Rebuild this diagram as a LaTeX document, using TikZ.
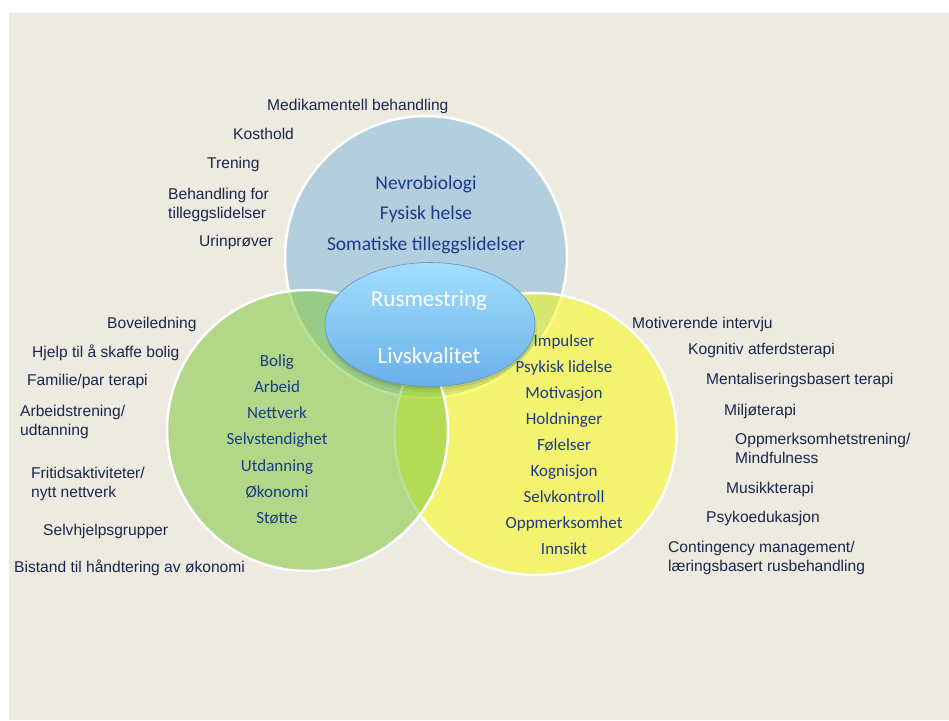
\documentclass[tikz,border=0pt]{standalone}
\usepackage{fontspec}
\setmainfont{Liberation Sans}
\newfontfamily\calfont{Carlito}
\usetikzlibrary{shapes.geometric}
\definecolor{bgc}{RGB}{237,234,223}
\definecolor{bluec}{RGB}{133,183,221}
\definecolor{yellowc}{RGB}{248,252,21}
\definecolor{greenc}{RGB}{130,201,63}
\definecolor{outertxt}{RGB}{27,38,80}
\definecolor{innertxt}{RGB}{28,58,140}
\definecolor{coretop}{RGB}{162,222,253}
\definecolor{corebot}{RGB}{106,176,233}
\definecolor{coreedge}{RGB}{100,150,195}
\tikzset{
  ring/.style={fill opacity=0.55, draw=white, draw opacity=1, line width=2.5pt},
  outer/.style={inner sep=0pt, anchor=base west, text=outertxt, font=\fontsize{15.6}{19}\selectfont},
  innerlist/.style={inner sep=0pt, anchor=base, text=innertxt},
  coretext/.style={inner sep=0pt, anchor=base, text=white, font=\calfont\fontsize{23}{57}\selectfont}
}
\begin{document}
\begin{tikzpicture}[x=1pt,y=-1pt]
\useasboundingbox (0,0) rectangle (949,720);
\fill[bgc] (9,13) rectangle (949,720);
% circles: blue, yellow, green
\path[ring, fill=bluec] (426,257) circle[radius=141];
\path[ring, fill=yellowc] (535.5,434) circle[radius=141];
\path[ring, fill=greenc] (307.5,430.5) circle[radius=140.5];
% soft shadow of core ellipse
\fill[black, opacity=0.05] (431,329.5) ellipse[x radius=106, y radius=63];
\fill[black, opacity=0.09] (430.5,327.5) ellipse[x radius=105, y radius=62];
% core ellipse
\node[ellipse, minimum width=210pt, minimum height=124pt, inner sep=0pt,
      top color=coretop, bottom color=corebot, draw=coreedge, line width=0.6pt] (core) at (430,324.5) {};
\node[coretext] (core1) at (429,306) {Rusmestring};
\node[coretext] (core2) at (429,363) {Livskvalitet};
% inner lists
\node[innerlist, font=\calfont\fontsize{19.5}{30.5}\selectfont] (bluelist) at (426,189)
  {\begin{tabular}[t]{@{}c@{}}Nevrobiologi\\Fysisk helse\\Somatiske tilleggslidelser\end{tabular}};
\node[innerlist, font=\calfont\fontsize{17}{26.3}\selectfont] (greenlist) at (277,366)
  {\begin{tabular}[t]{@{}c@{}}Bolig\\Arbeid\\Nettverk\\Selvstendighet\\Utdanning\\Økonomi\\Støtte\end{tabular}};
\node[innerlist, font=\calfont\fontsize{17}{26.1}\selectfont] (yellowlist) at (564,346)
  {\begin{tabular}[t]{@{}c@{}}Impulser\\Psykisk lidelse\\Motivasjon\\Holdninger\\Følelser\\Kognisjon\\Selvkontroll\\Oppmerksomhet\\Innsikt\end{tabular}};
% outer texts: top
\node[outer] (t1) at (267,110.5) {Medikamentell behandling};
\node[outer] (t2) at (233,139.5) {Kosthold};
\node[outer] (t3) at (207,168.5) {Trening};
\node[outer] (t4) at (168,199.5) {\begin{tabular}[t]{@{}l@{}}Behandling for\\tilleggslidelser\end{tabular}};
\node[outer] (t5) at (199,246.5) {Urinprøver};
% left
\node[outer] (l1) at (107,328.5) {Boveiledning};
\node[outer] (l2) at (32,357.5) {Hjelp til å skaffe bolig};
\node[outer] (l3) at (27,385.5) {Familie/par terapi};
\node[outer] (l4) at (20,416.5) {\begin{tabular}[t]{@{}l@{}}Arbeidstrening/\\udtanning\end{tabular}};
\node[outer] (l5) at (31,478.5) {\begin{tabular}[t]{@{}l@{}}Fritidsaktiviteter/\\nytt nettverk\end{tabular}};
\node[outer] (l6) at (43,535.5) {Selvhjelpsgrupper};
\node[outer] (l7) at (14,572.5) {Bistand til håndtering av økonomi};
% right
\node[outer] (r1) at (632,328.5) {Motiverende intervju};
\node[outer] (r2) at (688,354.5) {Kognitiv atferdsterapi};
\node[outer] (r3) at (706,384.5) {Mentaliseringsbasert terapi};
\node[outer] (r4) at (724,415.5) {Miljøterapi};
\node[outer] (r5) at (735,444.5) {\begin{tabular}[t]{@{}l@{}}Oppmerksomhetstrening/\\Mindfulness\end{tabular}};
\node[outer] (r6) at (726,493.5) {Musikkterapi};
\node[outer] (r7) at (706,522.5) {Psykoedukasjon};
\node[outer] (r8) at (668,552.5) {\begin{tabular}[t]{@{}l@{}}Contingency management/\\læringsbasert rusbehandling\end{tabular}};
\end{tikzpicture}
\end{document}
